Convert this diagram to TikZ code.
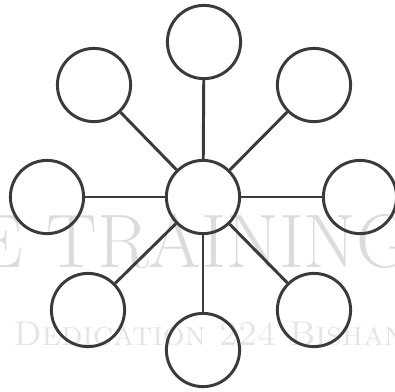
\documentclass[tikz,border=0pt]{standalone}
\usepackage{tikz}
\usetikzlibrary{positioning}
\definecolor{ringgray}{RGB}{58, 58, 58}
\definecolor{markgray}{RGB}{220, 220, 220}
\definecolor{placegray}{RGB}{228, 228, 228}

\begin{document}
\begin{tikzpicture}[
  x=0.025cm, y=-0.025cm,
  ring/.style={circle, draw=ringgray, line width=2.1pt, minimum size=1.83cm, inner sep=0pt},
  spoke/.style={line width=2.1pt, color=ringgray},
  marktext/.style={inner sep=0pt, text=markgray}
]
\useasboundingbox (0, 0) rectangle (395, 391);
\clip (0, 0) rectangle (395, 391);

% Watermark behind the diagram
\node[marktext, anchor=base east, font=\fontsize{54}{54}\selectfont] (mark) at (412, 267) {E TRAINING};
\node[marktext, anchor=base west, text=placegray, font=\fontsize{24.5}{24.5}\selectfont\scshape] (place) at (13, 345) {Dedication 224 Bishan};

% Hub and outer circles
\node[ring] (hub) at (203, 197) {};
\node[ring] (top) at (204, 42) {};
\node[ring] (topright) at (314, 85) {};
\node[ring] (right) at (360, 197) {};
\node[ring] (bottomright) at (314, 310) {};
\node[ring] (bottom) at (203, 350) {};
\node[ring] (bottomleft) at (88, 310) {};
\node[ring] (left) at (47, 197) {};
\node[ring] (topleft) at (94, 85) {};

% Spokes
\draw[spoke] (hub) -- (top);
\draw[spoke] (hub) -- (topright);
\draw[spoke] (hub) -- (right);
\draw[spoke] (hub) -- (bottomright);
\draw[spoke] (hub) -- (bottom);
\draw[spoke] (hub) -- (bottomleft);
\draw[spoke] (hub) -- (left);
\draw[spoke] (hub) -- (topleft);

\end{tikzpicture}
\end{document}
